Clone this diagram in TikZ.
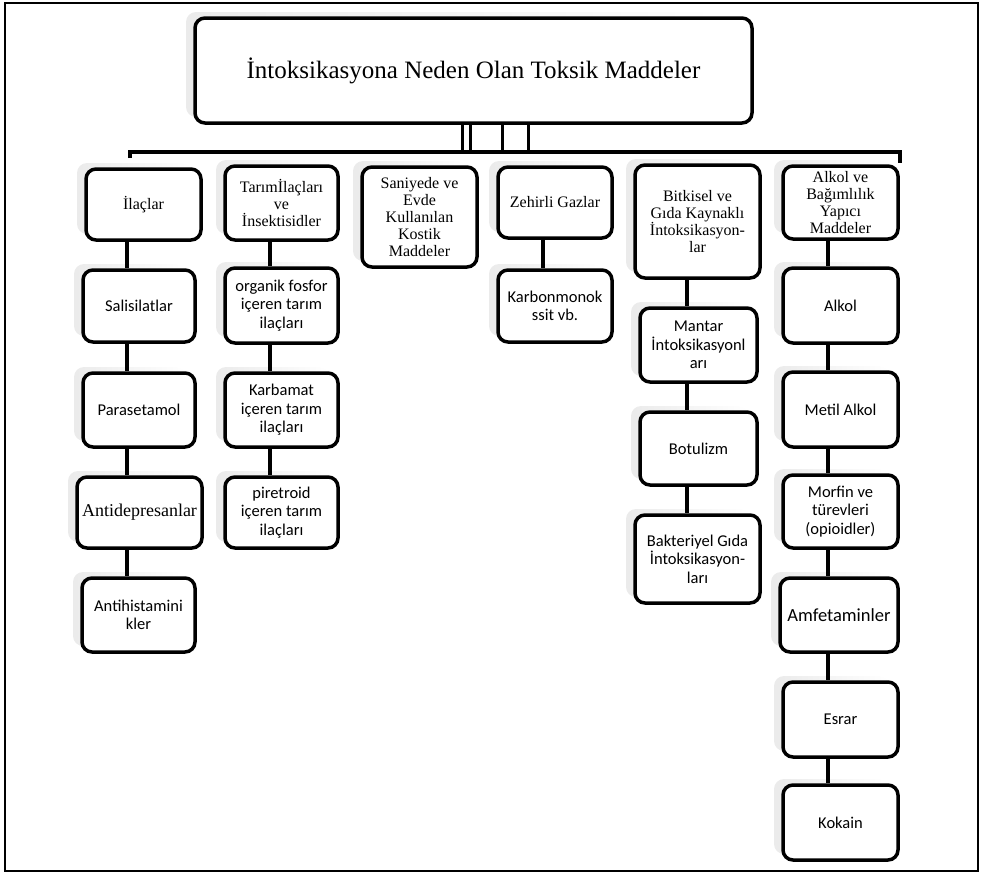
\documentclass[tikz,border=0pt]{standalone}
\usepackage{fontspec}
\setmainfont{Liberation Serif}
\newfontfamily\calfam{Carlito}
\usetikzlibrary{shadows}
\begin{document}
\begin{tikzpicture}[x=1pt,y=-1pt,
  box/.style={draw, line width=3.5pt, rounded corners=10pt, fill=white, align=center, inner sep=0pt,
    general shadow={shadow xshift=-9pt, shadow yshift=6pt, left color=gray!16, right color=white, draw=none}},
  serif/.style={font=\fontsize{16}{16.8}\selectfont},
  sans/.style={font=\calfam\fontsize{16.5}{18.5}\selectfont},
  conn/.style={line width=4pt},
  stem/.style={line width=3pt}]
\useasboundingbox (0,0) rectangle (989,876);
\draw[line width=2.5pt] (5,3) rectangle (978,871);

% title
\node[box, minimum width=557pt, minimum height=105pt, font=\fontsize{25}{27}\selectfont] (title) at (473.5,70.5) {İntoksikasyona Neden Olan Toksik Maddeler};

% bar
\coordinate (barLd) at (130,158);
\coordinate (barL) at (130,152);
\coordinate (barR) at (900,152);
\coordinate (barRd) at (900,163);
\draw[conn] (barLd) -- (barL) -- (barR) -- (barRd);
\coordinate (v1) at (462,0);
\coordinate (v2) at (470,0);
\coordinate (v3) at (502,0);
\coordinate (v4) at (528,0);
\foreach \v in {v1,v2,v3,v4} \draw[stem] (title.south -| \v) -- (barL -| \v);

% column connector lines
\coordinate (c1) at (127,0);
\coordinate (c2) at (270,0);
\coordinate (c4) at (543,0);
\coordinate (c5) at (687,0);
\coordinate (c6) at (828,0);

% column 1
\node[box, serif, minimum width=115pt, minimum height=71pt] (ilac) at (143.5,204.5) {İlaçlar};
\node[box, sans, minimum width=112pt, minimum height=72pt] (sal) at (139,306) {Salisilatlar};
\node[box, sans, minimum width=112pt, minimum height=74pt] (par) at (139,410) {Parasetamol};
\node[box, minimum width=125pt, minimum height=71pt, font=\fontsize{18}{19}\selectfont] (antid) at (139.5,512.5) {Antidepresanlar};
\node[box, sans, minimum width=113pt, minimum height=74pt] (antih) at (138.5,615) {Antihistamini\\kler};

% column 2
\node[box, serif, minimum width=113pt, minimum height=74pt] (tarim) at (281.5,203) {Tarımİlaçları\\ve\\İnsektisidler};
\node[box, sans, minimum width=113pt, minimum height=75pt] (org) at (281.5,305.5) {organik fosfor\\içeren tarım\\ilaçları};
\node[box, sans, minimum width=113pt, minimum height=74pt] (karb) at (281.5,410) {Karbamat\\içeren tarım\\ilaçları};
\node[box, sans, minimum width=113pt, minimum height=71pt] (pir) at (281.5,512.5) {piretroid\\içeren tarım\\ilaçları};

% column 3
\node[box, serif, minimum width=115pt, minimum height=100pt] (sani) at (419.5,217) {Saniyede ve\\Evde\\Kullanılan\\Kostik\\Maddeler};

% column 4
\node[box, serif, minimum width=114pt, minimum height=71pt] (zeh) at (555,202.5) {Zehirli Gazlar};
\node[box, sans, minimum width=114pt, minimum height=72pt] (karbon) at (555,306) {Karbonmonok\\ssit vb.};

% column 5
\node[box, serif, minimum width=125pt, minimum height=113pt] (bitki) at (697.5,221.5) {Bitkisel ve\\Gıda Kaynaklı\\İntoksikasyon-\\lar};
\node[box, sans, minimum width=117pt, minimum height=74pt] (mantar) at (698.5,345) {Mantar\\İntoksikasyonl\\arı};
\node[box, sans, minimum width=117pt, minimum height=73pt] (botu) at (698.5,448.5) {Botulizm};
\node[box, sans, minimum width=125pt, minimum height=88pt] (bakt) at (697.5,559) {Bakteriyel Gıda\\İntoksikasyon-\\ları};

% column 6
\node[box, serif, minimum width=115pt, minimum height=73pt] (alkolve) at (840.5,202.5) {Alkol ve\\Bağımlılık\\Yapıcı\\Maddeler};
\node[box, sans, minimum width=115pt, minimum height=75pt] (alkol) at (840.5,305.5) {Alkol};
\node[box, sans, minimum width=115pt, minimum height=75pt] (metil) at (840.5,409.5) {Metil Alkol};
\node[box, sans, minimum width=115pt, minimum height=73pt] (morfin) at (840.5,511.5) {Morfin ve\\türevleri\\(opioidler)};
\node[box, minimum width=118pt, minimum height=74pt, font=\calfam\fontsize{18.5}{20}\selectfont] (amfet) at (839,615) {Amfetaminler};
\node[box, sans, minimum width=115pt, minimum height=75pt] (esrar) at (840.5,719.5) {Esrar};
\node[box, sans, minimum width=115pt, minimum height=75pt] (kokain) at (840.5,822.5) {Kokain};

% connectors
\foreach \a/\b/\c in {ilac/sal/c1, sal/par/c1, par/antid/c1, antid/antih/c1,
                   tarim/org/c2, org/karb/c2, karb/pir/c2,
                   zeh/karbon/c4,
                   bitki/mantar/c5, mantar/botu/c5, botu/bakt/c5,
                   alkolve/alkol/c6, alkol/metil/c6, metil/morfin/c6, morfin/amfet/c6, amfet/esrar/c6, esrar/kokain/c6}
  \draw[conn] (\a.south -| \c) -- (\b.north -| \c);
\end{tikzpicture}
\end{document}
